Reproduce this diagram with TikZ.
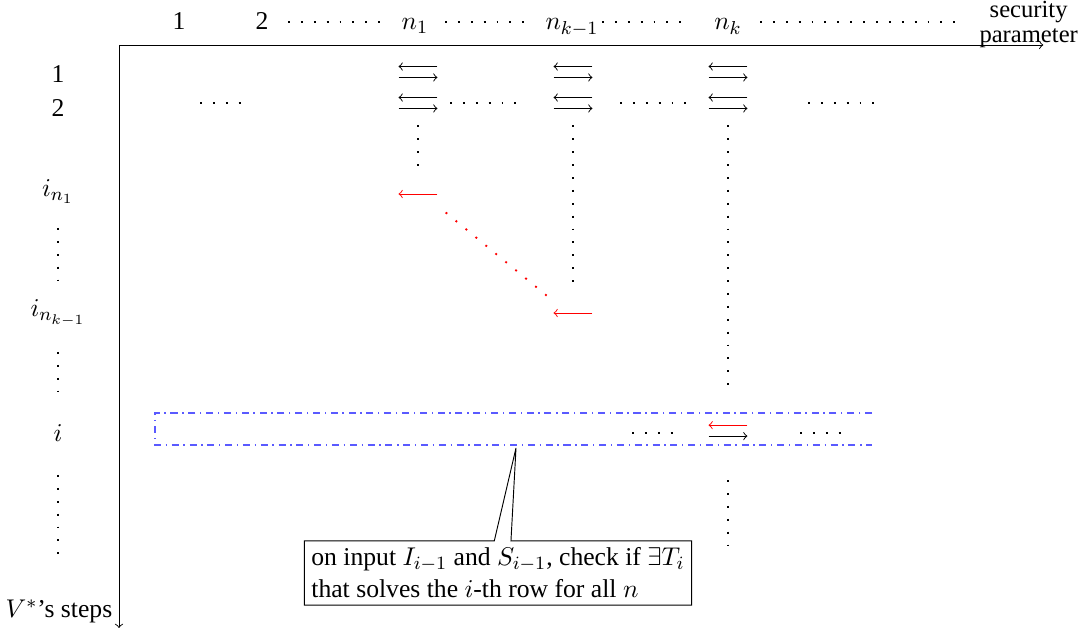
\documentclass[11pt,tikz,border=0pt]{standalone}
\usepackage{amsmath}
\usepackage{amssymb}
\usepackage{fontspec}
\setmainfont{Liberation Serif}
\usetikzlibrary{calc,shapes.callouts}
\definecolor{RowBlue}{HTML}{5A5AFF}

\tikzset{
  dotline/.style={line width=0.8pt, dash pattern=on 0.8pt off 4.7pt},
  cell/.style={minimum width=0.57cm, minimum height=0.15cm, inner sep=0pt},
  lab/.style={anchor=base, inner sep=0pt},
}

\begin{document}
\begin{tikzpicture}
  \useasboundingbox (0,0) rectangle (16.23,9.45);

  % axes
  \coordinate (o) at (1.785,8.775);
  \coordinate (xend) at (15.65,8.775);
  \coordinate (yend) at (1.785,0.03);
  \draw[->] (o) -- (xend);
  \draw[->] (o) -- (yend);
  \node[align=center, inner sep=0pt, anchor=north, font=\fontsize{10.5}{11}\selectfont] (sec) at (15.43,9.445) {security\\parameter};

  % column labels
  \node[lab] (c1) at (2.685,9.0) {1};
  \node[lab] (c2) at (3.93,9.0) {2};
  \node[lab] (cn1) at (6.225,9.0) {$n_1$};
  \node[lab] (cnk1) at (8.58,9.0) {$n_{k-1}$};
  \node[lab] (cnk) at (10.92,9.0) {$n_k$};
  \foreach \a/\b in {4.32/5.73, 6.675/7.875, 9.03/10.275, 11.4/14.325}
    \draw[dotline] (\a,9.12) -- (\b,9.12);

  % row labels
  \node[lab] (r1) at (0.87,8.205) {1};
  \node[lab] (r2) at (0.87,7.695) {2};
  \node[lab] (rin1) at (0.87,6.495) {$i_{n_1}$};
  \node[lab] (rink1) at (0.87,4.695) {$i_{n_{k-1}}$};
  \node[lab] (ri) at (0.87,2.82) {$i$};
  \node[lab] (steps) at (0.885,0.18) {$V^*$'s steps};
  \foreach \a/\b in {6.03/5.25, 4.17/3.57, 2.325/0.975}
    \draw[dotline] (0.87,\a) -- (0.87,\b);

  % rows 1 and 2
  \foreach \x/\c in {6.27/1, 8.595/2, 10.92/3} {
    \node[cell] (a1\c) at (\x,8.37) {};
    \node[cell] (a2\c) at (\x,7.905) {};
    \draw[->] (a1\c.north east) -- (a1\c.north west);
    \draw[->] (a1\c.south west) -- (a1\c.south east);
    \draw[->] (a2\c.north east) -- (a2\c.north west);
    \draw[->] (a2\c.south west) -- (a2\c.south east);
  }
  \foreach \a/\b in {3.0/3.645, 6.75/7.77, 9.3/10.32, 12.12/13.14}
    \draw[dotline] (\a,7.905) -- (\b,7.905);

  % red steps
  \node[cell] (s1) at (6.27,6.54) {};
  \node[cell] (s2) at (8.595,4.755) {};
  \draw[->, red] (s1.east) -- (s1.west);
  \draw[->, red] (s2.east) -- (s2.west);
  \draw[dotline, red, shorten <=0.16cm, shorten >=0.1cm] ([yshift=-5pt]s1.east) -- ([yshift=5pt]s2.west);

  \draw[dotline, shorten <=0.255cm, shorten >=0.21cm] (a21.south) -- (s1.north);
  \draw[dotline, shorten <=0.255cm, shorten >=0.27cm] (a22.south) -- (s2.north);

  % row i
  \node[cell] (ai) at (10.92,2.99) {};
  \draw[->, red] (ai.north east) -- (ai.north west);
  \draw[->] (ai.south west) -- (ai.south east);
  \draw[dotline, shorten <=0.255cm, shorten >=0.45cm] (a23.south) -- (ai.north);
  \draw[dotline] ([yshift=-0.66cm]ai.south) -- ++(0,-0.975);
  \foreach \a/\b in {9.48/10.095, 12.0/12.63}
    \draw[dotline] (\a,2.955) -- (\b,2.955);
  \draw[RowBlue, line width=0.6pt, dash dot] (13.08,3.255) -- (2.325,3.255) -- (2.325,2.775) -- (13.08,2.775);

  % note
  \coordinate (tip) at (7.74,2.73);
  \node[rectangle callout, draw, align=left, inner sep=3pt, callout absolute pointer={(tip)}] (note) at (7.47,0.855)
    {on input $I_{i-1}$ and $S_{i-1}$, check if $\exists T_i$\\that solves the $i$-th row for all $n$};
\end{tikzpicture}
\end{document}
